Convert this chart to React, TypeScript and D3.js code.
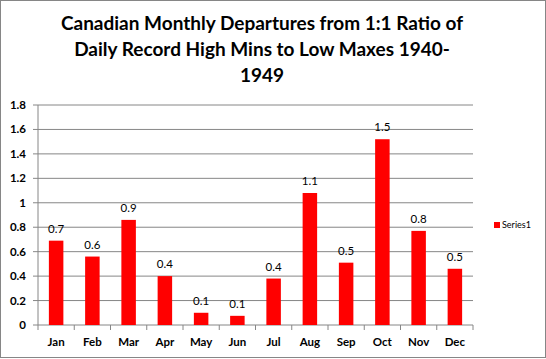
import React from "react";
import { scaleBand, scaleLinear, range } from "d3";

// monthly departures
const months = ["Jan", "Feb", "Mar", "Apr", "May", "Jun", "Jul", "Aug", "Sep", "Oct", "Nov", "Dec"];
const values = [0.69, 0.56, 0.86, 0.4, 0.1, 0.075, 0.38, 1.08, 0.51, 1.52, 0.77, 0.46];
const labels = ["0.7", "0.6", "0.9", "0.4", "0.1", "0.1", "0.4", "1.1", "0.5", "1.5", "0.8", "0.5"];
const yTicks = [0, 0.2, 0.4, 0.6, 0.8, 1, 1.2, 1.4, 1.6, 1.8];
const titleLines = [
  "Canadian Monthly Departures from 1:1 Ratio of",
  "Daily Record High Mins to Low Maxes 1940-",
  "1949",
];
const seriesName = "Series1";

const W = 546;
const H = 359;
const font = "Lato, 'Open Sans', sans-serif";

const App = () => {
  const left = 38, right = 473, top = 105, bottom = 325;
  const x = scaleBand<string>().domain(months).range([left, right]).paddingInner(0.6).paddingOuter(0.3);
  const band = (right - left) / months.length;
  const y = scaleLinear().domain([0, 1.8]).range([bottom, top]);

  return (
    <svg width={W} height={H} style={{ position: "absolute", left: 0, top: 0 }} fontFamily={font}>
      <rect x={0.5} y={0.5} width={W - 1} height={H - 2} fill="#fff" stroke="#868686" />
      {titleLines.map((t, i) => (
        <text key={i} x={262} y={30 + i * 26} textAnchor="middle" fontSize={19} fontWeight={700} fill="#000">
          {t}
        </text>
      ))}
      {/* grid */}
      {yTicks.map((t) => (
        <g key={t}>
          {t > 0 && <line x1={left} x2={right} y1={y(t)} y2={y(t)} stroke="#868686" />}
          <line x1={left - 5} x2={left} y1={y(t)} y2={y(t)} stroke="#868686" />
          <text x={left - 12} y={y(t) + 4} textAnchor="end" fontSize={11.5} fontWeight={700} fill="#000">
            {t}
          </text>
        </g>
      ))}
      <line x1={left} x2={left} y1={top} y2={bottom} stroke="#868686" />
      <line x1={left} x2={right} y1={bottom} y2={bottom} stroke="#868686" />
      {range(months.length + 1).map((i) => (
        <line key={i} x1={left + i * band} x2={left + i * band} y1={bottom} y2={bottom + 5} stroke="#868686" />
      ))}
      {months.map((m, i) => (
        <g key={m}>
          <rect x={x(m)} y={y(values[i])} width={x.bandwidth()} height={bottom - y(values[i])} fill="#ff0000" />
          <text x={x(m)! + x.bandwidth() / 2} y={y(values[i]) - 8} textAnchor="middle" fontSize={11.5} fill="#000">
            {labels[i]}
          </text>
          <text x={x(m)! + x.bandwidth() / 2} y={346} textAnchor="middle" fontSize={11.5} fontWeight={700} fill="#000">
            {m}
          </text>
        </g>
      ))}
      {/* legend */}
      <rect x={494} y={222} width={6} height={6} fill="#ff0000" />
      <text x={502} y={228} fontSize={9} fill="#000">{seriesName}</text>
    </svg>
  );
};

export default App;
